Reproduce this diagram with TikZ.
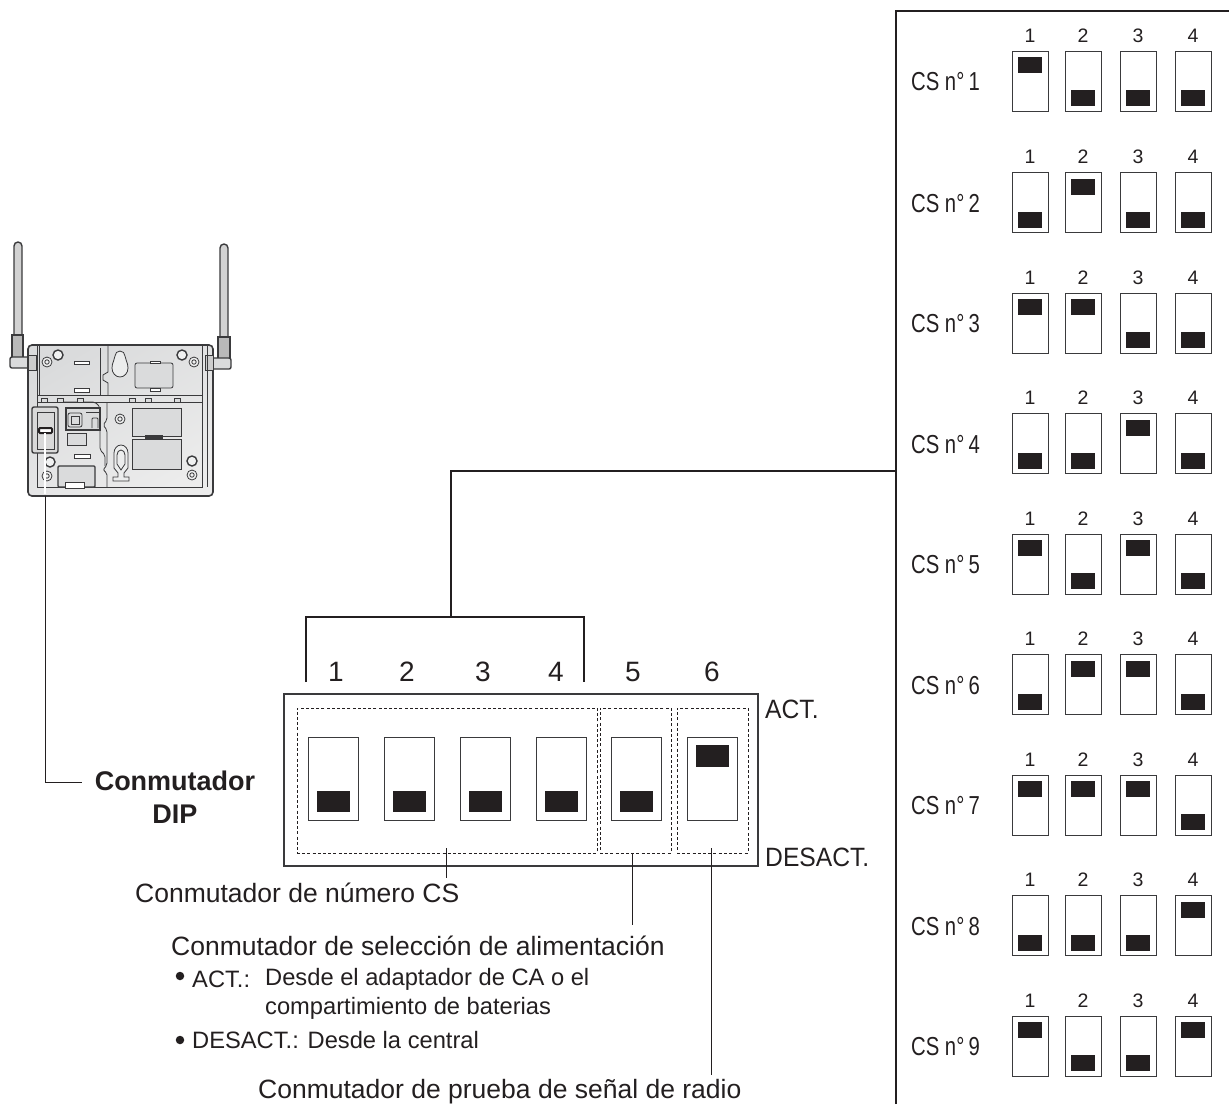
\documentclass[tikz,border=0pt]{standalone}
\usepackage{fontspec}
\setmainfont{Liberation Sans}
\newfontfamily\condfont[FakeStretch=0.78]{Liberation Sans}
\newfontfamily\midfont[FakeStretch=0.93]{Liberation Sans}
\usetikzlibrary{positioning}
\definecolor{Ink}{HTML}{231F20}
\definecolor{BodyGray}{HTML}{DADBDC}
\definecolor{BodyLine}{HTML}{3A3A3C}
\tikzset{
  main line/.style={draw=Ink, line width=1.5pt},
  thin leader/.style={draw=Ink, line width=1pt},
  outer frame/.style={draw=BodyLine, line width=1.3pt, minimum width=474pt, minimum height=172pt, inner sep=0pt},
  dash group/.style={draw=Ink, line width=0.8pt, dash pattern=on 3pt off 2.2pt, inner sep=0pt},
  big switch/.style={draw=BodyLine, line width=1pt, fill=white, minimum width=50pt, minimum height=83pt, inner sep=0pt},
  big knob/.style={fill=Ink, minimum width=33pt, minimum height=21.5pt, inner sep=0pt},
  small switch/.style={draw=BodyLine, line width=1pt, fill=white, minimum width=36pt, minimum height=60pt, inner sep=0pt},
  small knob/.style={fill=Ink, minimum width=24pt, minimum height=16pt, inner sep=0pt},
  big number/.style={font=\fontsize{28}{30}\selectfont, text=Ink, inner sep=0pt, anchor=base},
  small number/.style={font=\fontsize{19.5}{22}\selectfont, text=Ink, inner sep=0pt, anchor=base},
  row label/.style={font=\condfont\fontsize{26}{28}\selectfont, text=Ink, inner sep=0pt, anchor=base west},
  side label/.style={font=\midfont\fontsize{26.5}{28}\selectfont, text=Ink, inner sep=0pt, anchor=base west},
  caption/.style={font=\fontsize{26.5}{30}\selectfont, text=Ink, inner sep=0pt, anchor=base west},
  note/.style={font=\fontsize{23.7}{27}\selectfont, text=Ink, inner sep=0pt, anchor=base west},
  list dot/.style={fill=Ink, circle, minimum size=8.5pt, inner sep=0pt},
  dip title/.style={font=\bfseries\fontsize{27}{33}\selectfont, text=Ink, align=center, inner sep=0pt},
  unit line/.style={draw=BodyLine, line width=0.8pt},
  unit heavy/.style={draw=BodyLine, line width=1.4pt},
}
% one row of the CS table: y of the box centre, row number, four knob states
\newcommand{\csrow}[6]{
  \node[row label] (label#2) at (911,#1+9.5) {CS n\textdegree\,#2};
  \foreach \col/\xpos/\state in {1/1030/#3,2/1083/#4,3/1138/#5,4/1193/#6}{
    \node[small number] (num#2\col) at (\xpos,#1-39) {\col};
    \node[small switch] (sw#2\col) at (\xpos,#1) {};
    \node[small knob] (knob#2\col) at ([yshift=\state*16.5pt-0.5pt]sw#2\col.center) {};
  }
}
\begin{document}
\begin{tikzpicture}[x=1pt,y=-1pt]
  \useasboundingbox (0,0) rectangle (1229,1104);

  % Antennas of the cell station.
  \draw[unit heavy, fill=gray!35] (14,335) -- (14,246) arc (180:360:4 and 4) -- (22,335) -- cycle;
  \draw[unit heavy, fill=gray!55] (12,366) -- (12,335) -- (23,335) -- (23,366);
  \draw[unit heavy, fill=BodyGray, rounded corners=2pt] (10,357) rectangle (36,368);
  \draw[unit heavy, fill=gray!35] (220,337) -- (220,248) arc (180:360:4 and 4) -- (228,337) -- cycle;
  \draw[unit heavy, fill=gray!55] (218,367) -- (218,337) -- (230,337) -- (230,367);
  \draw[unit heavy, fill=BodyGray, rounded corners=2pt] (205,358) rectangle (231,369);

  % Body and its moulded parts.
  \node[draw=BodyLine, line width=1.6pt, top color=BodyGray, bottom color=gray!15, shading angle=30,
    rounded corners=4pt, minimum width=185pt, minimum height=151pt, inner sep=0pt] (unit) at (120.5,420.5) {};
  \draw[unit line, fill=gray!40] (28,355) rectangle (36,370);
  \draw[unit line, fill=gray!40] (205,355) rectangle (213,370);
  \draw[unit line] (37,345) -- (37,487) -- (202,487) -- (202,345);
  \draw[unit line] (39,345) -- (39,395) -- (100,395) -- (100,348);
  \draw[unit line] (108,345) -- (108,372) -- (103,375) -- (103,380) -- (108,383) -- (108,395);
  \draw[unit line] (37,402) -- (202,402) (37,395) -- (202,395) (207,345) -- (207,487);
  \draw[unit line, rounded corners=2pt] (58,402) -- (95,402) -- (100,407) -- (100,450) -- (105,455) -- (105,466);
  \draw[unit line, rounded corners=2pt] (107,487) -- (107,473) -- (103,470) -- (107,465) -- (107,430) -- (103,425) -- (107,420) -- (107,402);
  \foreach \tabx in {44,60,80,132,148,177}{
    \draw[unit line, fill=BodyGray] (\tabx-3,402) -- (\tabx-3,398) -- (\tabx+3,398) -- (\tabx+3,402);
  }
  \draw[unit line, fill=BodyGray, rounded corners=2pt] (135,363) rectangle (173,388);
  \draw[unit line, fill=BodyGray] (132,408) rectangle (181,436);
  \draw[unit line, fill=BodyGray] (132,439) rectangle (181,469);
  \draw[unit heavy, fill=BodyLine] (146,435.5) rectangle (162,438.5);
  \draw[unit line, fill=white] (74,361) rectangle (89,364);
  \draw[unit line, fill=white] (74,388) rectangle (89,392);
  \draw[unit line, fill=white] (150,361) rectangle (160,363);
  \draw[unit line, fill=white] (150,388) rectangle (160,391);
  \draw[unit line, fill=white] (74,454) rectangle (90,458);

  % Keyholes.
  \draw[unit line, fill=white!50!BodyGray] (112,368) .. controls (112,362) and (115,360) .. (115,356) arc (180:360:5)
    .. controls (125,360) and (128,362) .. (128,368) arc (0:180:8 and 9);
  \draw[unit line, fill=white!50!BodyGray] (114,468) -- (114,453) arc (180:360:7 and 8) -- (128,468)
    -- (124,473) -- (124,477) -- (129,477) -- (129,481) -- (113,481) -- (113,477) -- (118,477) -- (118,473) -- cycle;
  \draw[unit line] (117,464) -- (117,455) arc (180:360:4 and 5) -- (125,464) -- (121,470) -- cycle;

  % Screws.
  \draw[unit heavy, fill=white!60!BodyGray] (58,355) circle (5);
  \draw[unit heavy, fill=white!60!BodyGray] (182,355) circle (5);
  \draw[unit heavy, fill=white!60!BodyGray] (192,461) circle (5);
  \draw[unit heavy, fill=white!60!BodyGray] (50,462) circle (5);
  \foreach \sx/\sy in {47/362,194/362,120/419,192/475,47/476}{
    \draw[unit line, fill=white!60!BodyGray] (\sx,\sy) circle (5) (\sx,\sy) circle (2.2);
  }

  % DIP recess and port blocks.
  \draw[unit heavy, fill=gray!30, rounded corners=2pt] (32,407) rectangle (58,453);
  \draw[unit line] (37,412) rectangle (54,449);
  \draw[unit heavy, fill=BodyGray, rounded corners=1pt] (58,466) rectangle (95,487);
  \draw[unit line, fill=white] (65,482) rectangle (84,488);
  \draw[unit heavy, fill=BodyGray] (66,408) rectangle (100,430);
  \draw[unit line, rounded corners=2pt] (68,413) rectangle (82,427);
  \draw[unit line] (71,416) rectangle (79,424);
  \draw[unit line] (86,412) -- (100,412);
  \draw[unit line, rounded corners=1pt] (92,428) -- (92,418) -- (98,418) -- (98,428);
  \draw[unit line, fill=BodyGray] (67,433) rectangle (86,445);
  \draw[draw=Ink, line width=2pt, fill=white, rounded corners=1pt] (39,428) rectangle (52,433);

  % DIP switch panel.
  \node[outer frame] (panel) at (521,780) {};
  \node[dash group, minimum width=300pt, minimum height=145pt] (csgroup) at (447,780.5) {};
  \node[dash group, minimum width=71pt, minimum height=145pt] (powergroup) at (635.5,780.5) {};
  \node[dash group, minimum width=71pt, minimum height=145pt] (radiogroup) at (712.5,780.5) {};
  \foreach \num/\xpos in {1/333.5,2/409.5,3/485,4/561,5/636.5}{
    \node[big switch] (dip\num) at (\xpos,778.5) {};
    \node[big knob] (knob\num) at ([yshift=-23pt]dip\num.center) {};
  }
  \node[big switch] (dip6) at (712,778.5) {};
  \node[big knob] (knob6) at ([yshift=22.5pt]dip6.center) {};
  \foreach \num/\xpos in {1/336,2/407,3/483,4/556,5/633,6/712}{
    \node[big number] (top\num) at (\xpos,681) {\num};
  }
  \node[side label] (onlabel) at (765,718) {ACT.};
  \node[side label] (offlabel) at (765,866) {DESACT.};

  % CS number table.
  \coordinate (tabletop) at (1229,11);
  \coordinate (tablefoot) at (896,1104);
  \draw[main line] (tablefoot) |- (tabletop);
  \csrow{81}{1}{1}{-1}{-1}{-1}
  \csrow{202.5}{2}{-1}{1}{-1}{-1}
  \csrow{323}{3}{1}{1}{-1}{-1}
  \csrow{443.5}{4}{-1}{-1}{1}{-1}
  \csrow{564}{5}{1}{-1}{1}{-1}
  \csrow{684.5}{6}{-1}{1}{1}{-1}
  \csrow{805}{7}{1}{1}{1}{-1}
  \csrow{925.5}{8}{-1}{-1}{-1}{1}
  \csrow{1046}{9}{1}{-1}{-1}{1}

  % Bracket over switches 1 to 4, tied to the table.
  \coordinate (bracketleft) at (306,682);
  \coordinate (bracketright) at (584,682);
  \coordinate (bracketmid) at (451,617);
  \coordinate (tableentry) at (896,471);
  \draw[main line] (bracketleft) |- (bracketmid) -| (bracketright);
  \draw[main line] (bracketmid) |- (tableentry);

  % Captions and their leaders.
  \node[dip title] (diptitle) at (175,797) {Conmutador\\DIP};
  \node[caption] (cscaption) at (135,902) {Conmutador de número CS};
  \node[caption] (powercaption) at (171,955) {Conmutador de selección de alimentación};
  \node[caption] (radiocaption) at (258,1098) {Conmutador de prueba de señal de radio};
  \node[list dot] (bulleton) at (180,976) {};
  \node[note] (onnote) at (192,987) {ACT.:};
  \node[note] (onnotea) at (265,985) {Desde el adaptador de CA o el};
  \node[note] (onnoteb) at (265,1014) {compartimiento de baterias};
  \node[list dot] (bulletoff) at (180,1040) {};
  \node[note] (offnote) at (192,1048) {DESACT.: Desde la central};

  \coordinate (dipelbow) at (45,782);
  \coordinate (unitexit) at (45,496);
  \coordinate (dipknob) at (45,433);
  \coordinate (leadcs) at (446,878);
  \coordinate (leadpower) at (632,925);
  \coordinate (leadradio) at (711,1075);
  \draw[thin leader] (unitexit) -- (dipelbow) -- ([xshift=-13pt]diptitle.west |- dipelbow);
  \draw[white, line width=1.8pt] (dipknob) -- ([yshift=2pt]unitexit);
  \draw[thin leader] ([yshift=5pt]leadcs |- csgroup.south) -- (leadcs);
  \draw[thin leader] (leadpower |- powergroup.south) -- (leadpower);
  \draw[thin leader] ([yshift=5pt]leadradio |- radiogroup.south) -- (leadradio);
\end{tikzpicture}
\end{document}
